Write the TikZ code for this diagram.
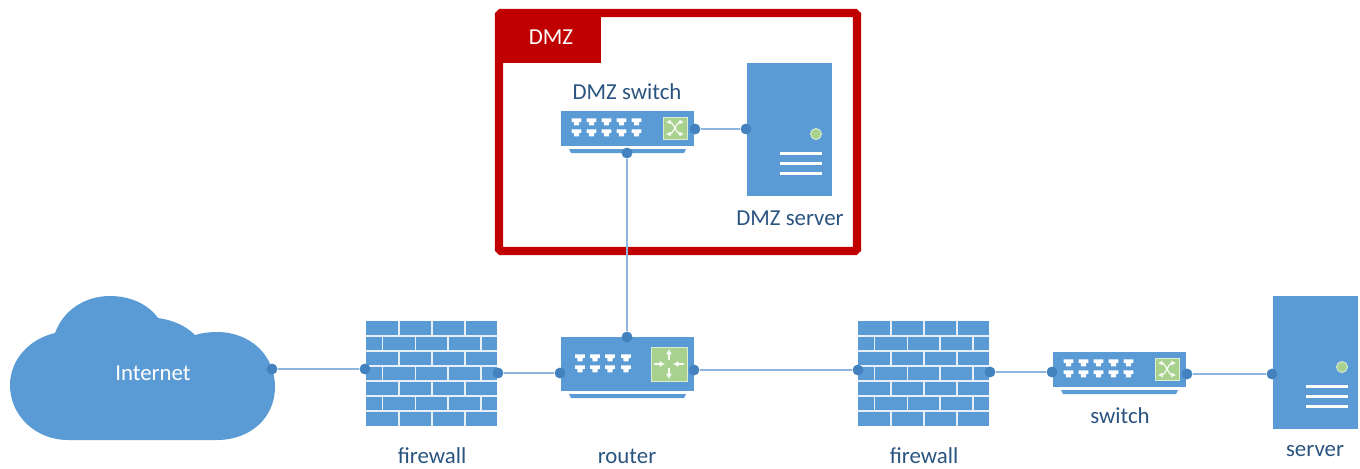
\documentclass[tikz,border=0pt]{standalone}
\usepackage{fontspec}
\setmainfont{Carlito}
\usepackage{xcolor}
\usepackage{tikz}
\usetikzlibrary{arrows, arrows.meta}

\definecolor{devblue}{HTML}{5B9BD5}
\definecolor{portblue}{HTML}{4382BE}
\definecolor{linkblue}{HTML}{8DB6DE}
\definecolor{ledgreen}{HTML}{A9D18E}
\definecolor{dmzred}{HTML}{C00000}
\definecolor{labelblue}{HTML}{2A5480}

\tikzset{
	portdot/.style={circle, fill=portblue, inner sep=0pt, minimum size=6.2pt},
	link/.style={line width=0.9pt, linkblue},
	devlabel/.style={inner sep=0pt, font=\fontsize{13}{15}\selectfont, text=labelblue},
	whitelabel/.style={inner sep=0pt, font=\fontsize{13}{15}\selectfont, text=white},
	iconarrow/.style={line width=0.8pt, white!90!ledgreen, -{Latex[length=3pt, width=3.6pt]}},
	iconcross/.style={line width=0.7pt, white!90!ledgreen, {Latex[length=2.6pt, width=3pt]}-{Latex[length=2.6pt, width=3pt]}},
	pics/portmark/.style={code={
		\fill[white] (-4.8,-3.6) -- (4.8,-3.6) -- (4.8,-0.2) -- (2.8,-0.2) -- (2.4,3.4)
			-- (-2.4,3.4) -- (-2.8,-0.2) -- (-4.8,-0.2) -- cycle;
	}},
	pics/switchbox/.style={code={
		\fill[devblue] (0,0) rectangle (133,35);
		\fill[devblue] (8,38) -- (125,38) -- (123,42) -- (10,42) -- cycle;
		\foreach \i in {0,...,4} {
			\pic at ({15.5+15*\i},11) {portmark};
			\pic at ({15.5+15*\i},22) {portmark};
		}
		\draw[fill=ledgreen, draw=white!60!ledgreen, line width=0.5pt] (102,6) rectangle (126,28);
		\draw[iconcross] (105,11) .. controls (112,11) and (116,23) .. (123,23);
		\draw[iconcross] (105,23) .. controls (112,23) and (116,11) .. (123,11);
	}},
	pics/routerbox/.style={code={
		\fill[devblue] (0,0) rectangle (133,54);
		\fill[devblue] (8,57) -- (125,57) -- (123,61) -- (10,61) -- cycle;
		\foreach \x in {19,34,49,65} {
			\pic at (\x,21) {portmark};
			\pic at (\x,32) {portmark};
		}
		\draw[fill=ledgreen, draw=white!60!ledgreen, line width=0.5pt] (90,10) rectangle (126,44);
		\draw[iconarrow] (108,23) -- (108,12);
		\draw[iconarrow] (108,31) -- (108,42);
		\draw[iconarrow] (93,27) -- (104,27);
		\draw[iconarrow] (123,27) -- (112,27);
	}},
	pics/firewallbox/.style={code={
		\fill[devblue] (0,0) rectangle (131,105);
		\foreach \y in {15,30,...,90}
			\draw[line width=0.6pt, white!85!devblue] (0,\y) -- (131,\y);
		\foreach \y in {0,30,60,90}
			\foreach \x in {33,66,99}
				\draw[line width=0.6pt, white!85!devblue] (\x,\y) -- (\x,\y+15);
		\foreach \y in {15,45,75}
			\foreach \x in {16.5,49.5,82,115}
				\draw[line width=0.6pt, white!85!devblue] (\x,\y) -- (\x,\y+15);
	}},
	pics/serverbox/.style={code={
		\fill[devblue] (0,0) rectangle (85,133);
		\draw[fill=ledgreen, draw=white!60!ledgreen, line width=0.5pt] (69,71) circle (5.5);
		\foreach \y in {90,100,110}
			\draw[line width=1.7pt, white] (33,\y) -- (75,\y);
	}},
}

\begin{document}
\begin{tikzpicture}[x=0.02cm, y=-0.02cm]
	\useasboundingbox (0,0) rectangle (1360,468);

	\draw [line width=4.6pt, dmzred, rounded corners=1pt] (499,13) rectangle (857,251);
	\fill [dmzred] (499,13) rectangle (601,63);
	\node[whitelabel] (dmztitle) at (551,37) {DMZ};

	\fill [devblue] (68,440) -- (217,440)
		.. controls (250,440) and (275,418) .. (275,387)
		.. controls (275,355) and (250,332) .. (217,332)
		.. controls (209,332) and (202,333) .. (195,335)
		.. controls (185,325) and (172,320) .. (158,318)
		.. controls (148,304) and (130,296) .. (110,296)
		.. controls (84,296) and (63,311) .. (55,333)
		.. controls (29,339) and (10,360) .. (10,385)
		.. controls (10,416) and (36,440) .. (68,440) -- cycle;
	\node[whitelabel] (internet) at (153,373) {Internet};

	\pic at (561,111) {switchbox};
	\pic at (747,63) {serverbox};
	\pic at (366,321) {firewallbox};
	\pic at (561,337) {routerbox};
	\pic at (858,321) {firewallbox};
	\pic at (1053,352) {switchbox};
	\pic at (1273,296) {serverbox};

	\node[devlabel] (dmzswitchlabel) at (627,92) {DMZ switch};
	\node[devlabel] (dmzserverlabel) at (790,218) {DMZ server};
	\node[devlabel] (firewallalabel) at (432,456) {firewall};
	\node[devlabel] (routerlabel) at (627,456) {router};
	\node[devlabel] (firewallblabel) at (924,456) {firewall};
	\node[devlabel] (switchlabel) at (1120,416) {switch};
	\node[devlabel] (serverlabel) at (1315,451) {server};

	\node[portdot] (internetport) at (272,369) {};
	\node[portdot] (firewallaleft) at (365,369) {};
	\node[portdot] (firewallaright) at (498,373) {};
	\node[portdot] (routerleft) at (560,373) {};
	\node[portdot] (routerright) at (694,370) {};
	\node[portdot] (routertop) at (627,337) {};
	\node[portdot] (firewallbleft) at (858,370) {};
	\node[portdot] (firewallbright) at (990,372) {};
	\node[portdot] (switchleft) at (1052,372) {};
	\node[portdot] (switchright) at (1187,374) {};
	\node[portdot] (serverport) at (1272,374) {};
	\node[portdot] (dmzswitchbottom) at (627,153) {};
	\node[portdot] (dmzswitchright) at (695,129) {};
	\node[portdot] (dmzserverport) at (746,129) {};

	\draw [link] (internetport) -- (firewallaleft);
	\draw [link] (firewallaright) -- (routerleft);
	\draw [link] (routerright) -- (firewallbleft);
	\draw [link] (firewallbright) -- (switchleft);
	\draw [link] (switchright) -- (serverport);
	\draw [link] (routertop) -- (dmzswitchbottom);
	\draw [link] (dmzswitchright) -- (dmzserverport);
\end{tikzpicture}
\end{document}
